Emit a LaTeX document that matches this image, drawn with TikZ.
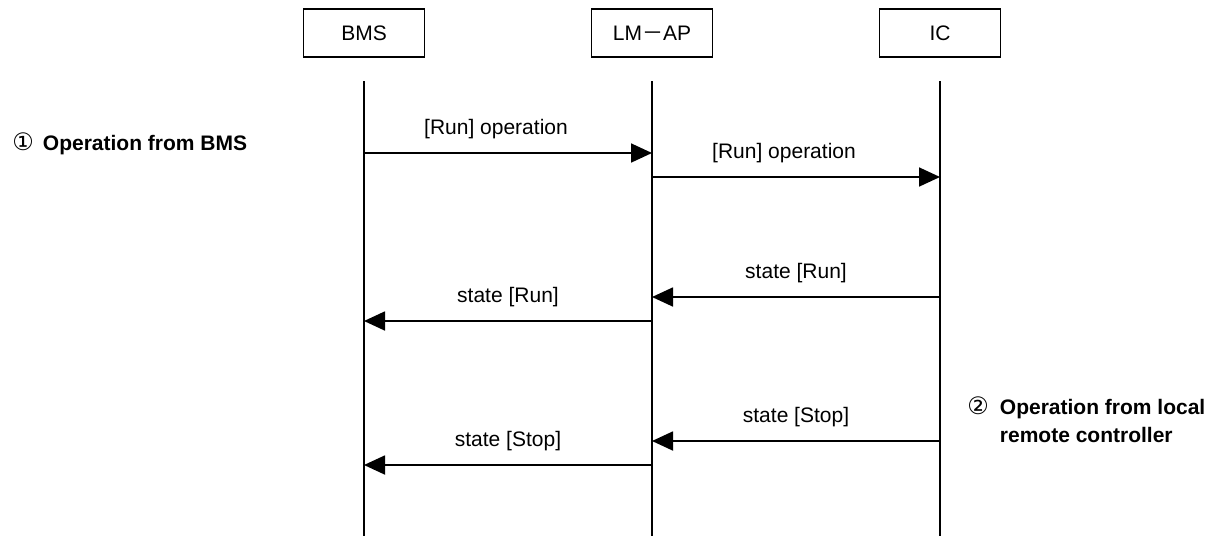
\documentclass[tikz,border=0pt]{standalone}
\usepackage{fontspec}
\setmainfont{Liberation Sans}
\newfontfamily\symfont{DejaVu Sans}
\newfontfamily\cjkfont{Noto Sans CJK JP}
\usetikzlibrary{arrows.meta}

\tikzset{
    unit/.style={draw, line width=0.9pt, minimum width=60.5pt, minimum height=24pt, inner sep=0pt},
    life/.style={line width=0.9pt},
    msg/.style={line width=0.9pt, -{Triangle[length=10.5pt,width=9.5pt]}},
    lbl/.style={anchor=base, inner sep=0pt, yshift=9.5pt},
    note/.style={anchor=base west, inner sep=0pt, font=\fontsize{10.5}{14}\selectfont\bfseries}
}
\newcommand{\circno}[1]{{\mdseries\symfont\fontsize{12}{14}\selectfont #1}}

\begin{document}
\begin{tikzpicture}[x=0.5pt,y=-0.5pt,font=\fontsize{10.5}{14}\selectfont]
    \useasboundingbox (0,0) rectangle (1218,536);

    % Units
    \node[unit] (bms)  at (364,33) {BMS};
    \node[unit] (lmap) at (652,33) {LM{\cjkfont －}AP};
    \node[unit] (ic)   at (940,33) {IC};

    % Lifelines
    \draw[life] (bms |- 0,81)  -- (bms |- 0,536);
    \draw[life] (lmap |- 0,81) -- (lmap |- 0,536);
    \draw[life] (ic |- 0,81)   -- (ic |- 0,536);

    % Messages
        % run from BMS
        \draw[msg] (bms |- 0,153)  -- node[lbl, xshift=-6pt] {[Run] operation} (lmap |- 0,153);
        \draw[msg] (lmap |- 0,177) -- node[lbl, xshift=-6pt] {[Run] operation} (ic |- 0,177);
        \draw[msg] (ic |- 0,297)   -- node[lbl] {state [Run]} (lmap |- 0,297);
        \draw[msg] (lmap |- 0,321) -- node[lbl] {state [Run]} (bms |- 0,321);

        % stop from remote controller
        \draw[msg] (ic |- 0,441)   -- node[lbl] {state [Stop]} (lmap |- 0,441);
        \draw[msg] (lmap |- 0,465) -- node[lbl] {state [Stop]} (bms |- 0,465);

    % Notes
    \node[note] (opbms) at (12,150) {\circno{①}\hspace{4.5pt}Operation from BMS};
    \node[note] (oplocal) at (967,414) {\begin{tabular}[t]{@{}l@{\hspace{5.5pt}}l@{}}
        \circno{②} & Operation from local\\
                   & remote controller
    \end{tabular}};
\end{tikzpicture}
\end{document}
